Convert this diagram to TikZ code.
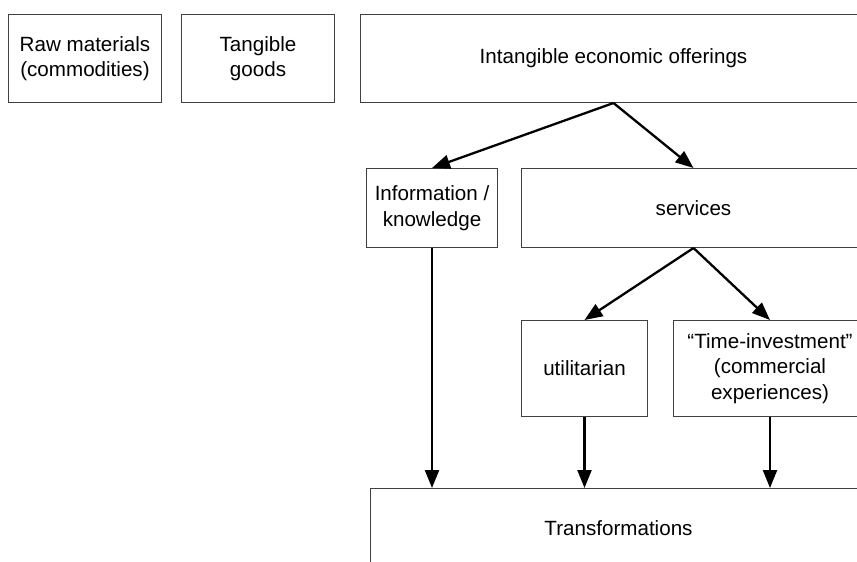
\documentclass[tikz,border=0pt]{standalone}
\usepackage{fontspec}
\setmainfont{Liberation Sans}
\usetikzlibrary{arrows.meta}
\begin{document}
\begin{tikzpicture}[x=1pt,y=-1pt,
  box/.style={draw=black!75, line width=1pt, rectangle, anchor=north west, inner sep=0pt,
    align=center, font=\fontsize{20.6}{25.5}\selectfont, text=black},
  arr/.style={line width=2.3pt, -{Triangle[length=18pt,width=14pt]}}]
\useasboundingbox (0,0) rectangle (857,562);
\clip (0,0) rectangle (857,562);
\node[box, minimum width=153pt, minimum height=88pt] (raw) at (8,14) {Raw materials\\(commodities)};
\node[box, minimum width=153pt, minimum height=88pt] (tang) at (181,14) {Tangible\\goods};
\node[box, minimum width=506pt, minimum height=88pt] (intan) at (360,14) {Intangible economic offerings};
\node[box, minimum width=131pt, minimum height=79pt] (info) at (366,168) {Information /\\knowledge};
\node[box, minimum width=344pt, minimum height=79pt] (serv) at (521,168) {services};
\node[box, minimum width=126pt, minimum height=96pt] (util) at (521,320) {utilitarian};
\node[box, minimum width=193pt, minimum height=96pt] (time) at (673,320) {“Time-investment”\\(commercial\\experiences)};
\node[box, minimum width=496pt, minimum height=80pt] (trans) at (370,488) {Transformations};
\draw[arr] (intan.south) -- (info.north);
\draw[arr] (intan.south) -- (serv.north);
\draw[arr] (serv.south) -- (util.north);
\draw[arr] (serv.south) -- (time.north);
\draw[arr] (info.south) -- (info.south |- trans.north);
\draw[arr] (util.south) -- (util.south |- trans.north);
\draw[arr] (time.south) -- (time.south |- trans.north);
\end{tikzpicture}
\end{document}
